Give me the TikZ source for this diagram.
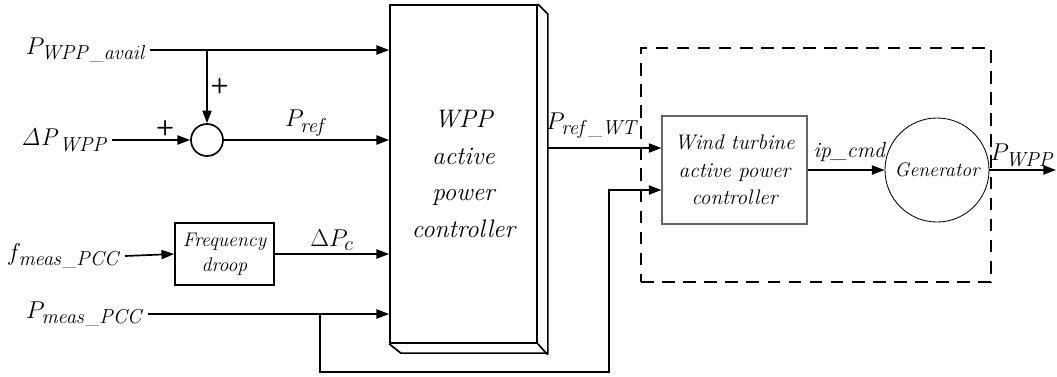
\documentclass[tikz,border=0pt]{standalone}
\usepackage{amsmath}
\usepackage{tikz}
\usetikzlibrary{
arrows.meta,
positioning,
calc
}

\begin{document}
\begin{tikzpicture}[
x=0.025cm, y=-0.025cm,
>={Triangle[length=9pt,width=6.5pt]},
sig/.style={draw,->,line width=1.2pt},
block/.style={
draw,
line width=1.2pt,
align=center,
font=\fontsize{14}{17.5}\selectfont\itshape
},
sumcirc/.style={draw,circle,line width=1.2pt,minimum size=0.8cm,inner sep=0pt},
inlabel/.style={font=\fontsize{19}{22}\selectfont,inner sep=2pt},
siglabel/.style={font=\fontsize{19}{22}\selectfont,inner sep=2pt},
plus/.style={font=\fontsize{15}{15}\selectfont\sffamily\bfseries,inner sep=2pt}
]
\useasboundingbox (0,0) rectangle (1057,376);

% plant level controller
\node (wpp) [block, minimum width=3.675cm, minimum height=8.45cm,
  font=\fontsize{18}{26}\selectfont\itshape] at (463.5,174) {WPP\\active\\power\\controller};
\draw[line width=1.2pt] (wpp.north east) -- ++(10,10) -- ++(0,339) -- ++(-147,0) -- (wpp.south west);
\draw[line width=1.2pt] (wpp.south east) -- ++(10,11);

% inputs
\node (pavail) [inlabel, anchor=east] at (150,50) {$P_{\mathit{WPP\_avail}}$};
\node (dpwpp) [inlabel, anchor=east] at (112,140) {$\mathit{\Delta P}_{\mathit{WPP}}$};
\node (fmeas) [inlabel, anchor=east] at (125,256) {$f_{\mathit{meas\_PCC}}$};
\node (pmeas) [inlabel, anchor=east] at (148,314) {$P_{\mathit{meas\_PCC}}$};

\node (sum) [sumcirc] at (207,140) {};
\coordinate (pab) at (207,50);
\node (droop) [block, minimum width=2.475cm, minimum height=1.55cm] at (224.5,254) {Frequency\\droop};

\draw[sig] (pavail.east) -- (pavail.east -| wpp.west);
\draw[sig] (pab) -- node[right, plus] {+} (sum.north);
\draw[sig] (dpwpp.east) -- node[pos=0.68, above, plus] {+} (sum.west);
\draw[sig] (sum.east) -- node[above, siglabel] {$P_{\mathit{ref}}$} (sum.east -| wpp.west);
\draw[sig] (fmeas.east) -- (droop.west);
\draw[sig] (droop.east) -- node[above, siglabel] {$\Delta P_c$} (droop.east -| wpp.west);
\draw[sig] (pmeas.east) -- (pmeas.east -| wpp.west);
\coordinate (pmb) at (320,314);
\coordinate (fbk) at (609,372);

% wind turbine
\node (wtbox) [draw, line width=0.8pt, dash pattern=on 9pt off 6pt,
  minimum width=8.75cm, minimum height=5.85cm] at (816,165) {};
\node (wtc) [block, draw=black!60, line width=0.8pt, minimum width=3.625cm, minimum height=2.7cm,
  font=\fontsize{15}{19.5}\selectfont\itshape] at (734.5,170) {Wind turbine\\active power\\controller};
\node (gen) [draw, circle, line width=0.6pt, minimum size=2.6cm, inner sep=0pt,
  font=\fontsize{14}{16}\selectfont\itshape] at (937,170) {Generator};

\coordinate (wppout) at (547,148);
\coordinate (pout) at (1056,170);
\draw[sig] (wppout) -- node[above=4pt, siglabel, pos=0.4] {$P_{\mathit{ref\_WT}}$} (wppout -| wtc.west);
\draw[sig] (pmb) |- (fbk) |- ([yshift=-0.5cm]wtc.west);
\draw[sig] (wtc.east) -- node[above=3pt, pos=0.55, siglabel, font=\fontsize{15.5}{18}\selectfont] {\textit{ip\_cmd}} (gen.west);
\draw[sig] (gen.east) -- node[above, siglabel] {$P_{\mathit{WPP}}$} (pout);

\end{tikzpicture}
\end{document}
